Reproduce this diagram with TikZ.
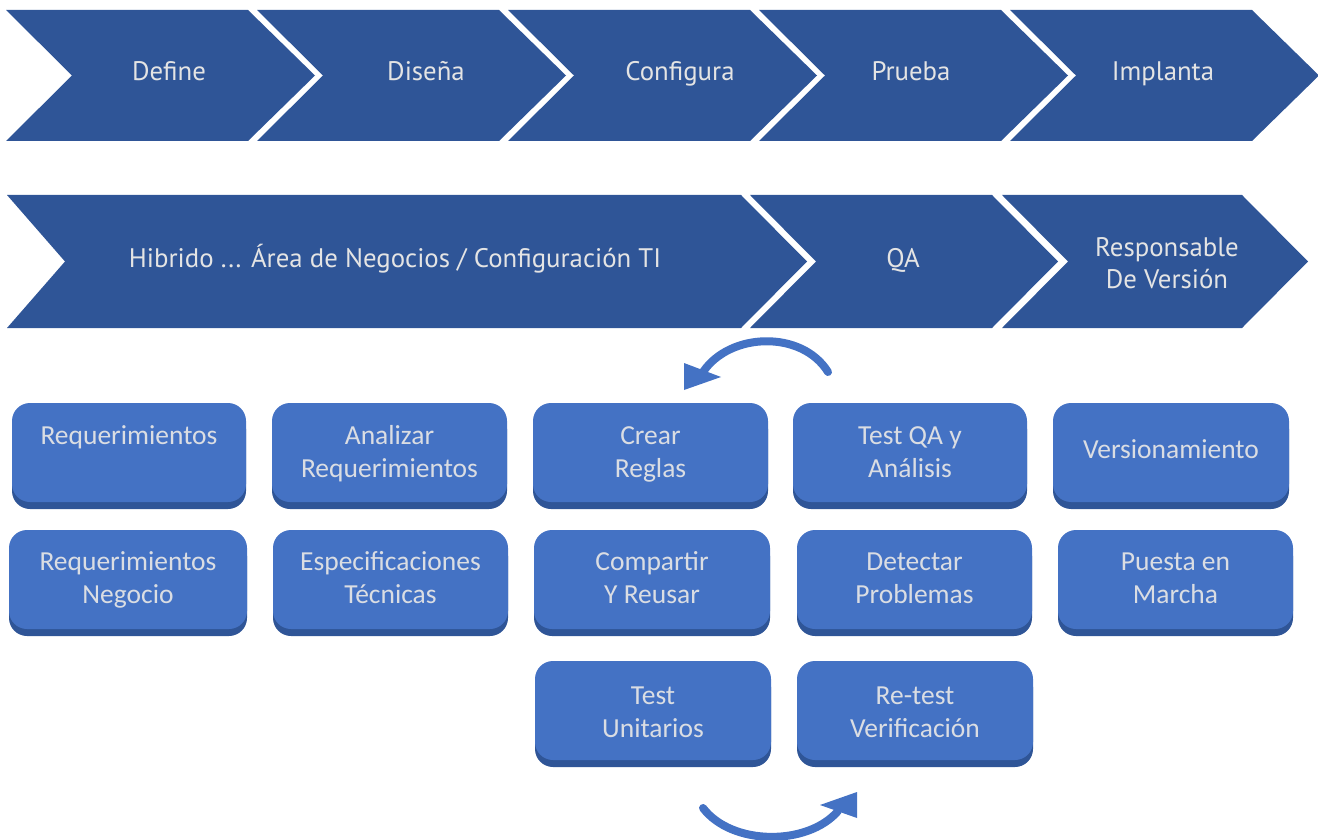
\documentclass[tikz,border=0pt]{standalone}
\usepackage{fontspec}
\setmainfont{Carlito}
\newfontfamily\chevfont{PT Sans}
\definecolor{chev}{HTML}{2F5597}
\definecolor{boxc}{HTML}{4472C4}
\definecolor{boxsh}{HTML}{2F5597}
\definecolor{chevtxt}{HTML}{E4E4E4}
\definecolor{boxtxt}{HTML}{DADDE3}
\tikzset{
  chevshape/.style={fill=chev},
  chevlabel/.style={anchor=base, text=chevtxt, font=\chevfont\fontsize{26.8}{32}\selectfont, align=center, inner sep=0pt},
  boxmain/.style={fill=boxc, rounded corners=18pt},
  boxshadow/.style={fill=boxsh, rounded corners=18pt},
  boxlabel/.style={anchor=base, text=boxtxt, font=\fontsize{27.5}{33}\selectfont, align=center, inner sep=0pt},
  loopshaft/.style={draw=boxc, line width=8pt, line cap=round},
  loophead/.style={fill=boxc}
}
% #7 = baseline of the last text line
\newcommand\mybox[7]{%
  \fill[boxshadow] (#2,#3+8) rectangle (#4,#5);
  \fill[boxmain] (#2,#3) rectangle (#4,#5-7);
  \node[boxlabel] (#1) at ({(#2+#4)/2},#7) {#6};
}
\begin{document}
\begin{tikzpicture}[x=1pt,y=-1pt]
\useasboundingbox (0,0) rectangle (1318,840);
% top row chevrons
\foreach \L/\nm/\tx/\cx in {6/def/Define/169, 257/dis/Diseña/426, 508/conf/Configura/680, 759/prue/Prueba/911, 1010/impl/Implanta/1163}{
  \fill[chevshape] (\L,10) -- (\L+242,10) -- (\L+309,75.5) -- (\L+242,141) -- (\L,141) -- (\L+66,75.5) -- cycle;
  \node[chevlabel] (\nm) at (\cx,81) {\tx};
}
% second row chevrons
\fill[chevshape] (7,195) -- (741,195) -- (807,261.5) -- (741,328) -- (7,328) -- (65,261.5) -- cycle;
\fill[chevshape] (750,195) -- (992,195) -- (1058,261.5) -- (992,328) -- (750,328) -- (816,261.5) -- cycle;
\fill[chevshape] (1002,195) -- (1242,195) -- (1308,261.5) -- (1242,328) -- (1002,328) -- (1068,261.5) -- cycle;
\node[chevlabel] (hib) at (395,267) {Hibrido ... Área de Negocios / Configuración TI};
\node[chevlabel] (qa) at (903,267) {QA};
\node[chevlabel] (resp) at (1167,288) {Responsable\\De Versión};
% boxes
\mybox{req}{12}{403}{246}{509}{Requerimientos}{444}
\mybox{anal}{272}{403}{507}{509}{Analizar\\Requerimientos}{477}
\mybox{crear}{533}{403}{768}{509}{Crear\\Reglas}{477}
\mybox{tqa}{793}{403}{1027}{509}{Test QA y\\Análisis}{477}
\mybox{vers}{1053}{403}{1289}{509}{Versionamiento}{458}
\mybox{reqn}{9}{530}{247}{636}{Requerimientos\\Negocio}{603}
\mybox{espec}{273}{530}{508}{636}{Especificaciones\\Técnicas}{603}
\mybox{comp}{534}{530}{770}{636}{Compartir\\Y Reusar}{603}
\mybox{det}{797}{530}{1032}{636}{Detectar\\Problemas}{603}
\mybox{pues}{1058}{530}{1293}{636}{Puesta en\\Marcha}{603}
\mybox{tun}{535}{661}{771}{767}{Test\\Unitarios}{737}
\mybox{ret}{797}{661}{1033}{767}{Re-test\\Verificación}{737}
% loop arrows
\coordinate (a1s) at (828,372);
\coordinate (a1e) at (703,372);
\draw[loopshaft] (a1s) .. controls (802,330) and (730,332) .. (a1e);
\fill[loophead] (684,363) -- (684,390) -- (721,377) -- cycle;
\coordinate (a2s) at (703,808);
\coordinate (a2e) at (838,811);
\draw[loopshaft] (a2s) .. controls (732,846) and (808,846) .. (a2e);
\fill[loophead] (820,805) -- (857,792) -- (857,818) -- cycle;
\end{tikzpicture}
\end{document}
